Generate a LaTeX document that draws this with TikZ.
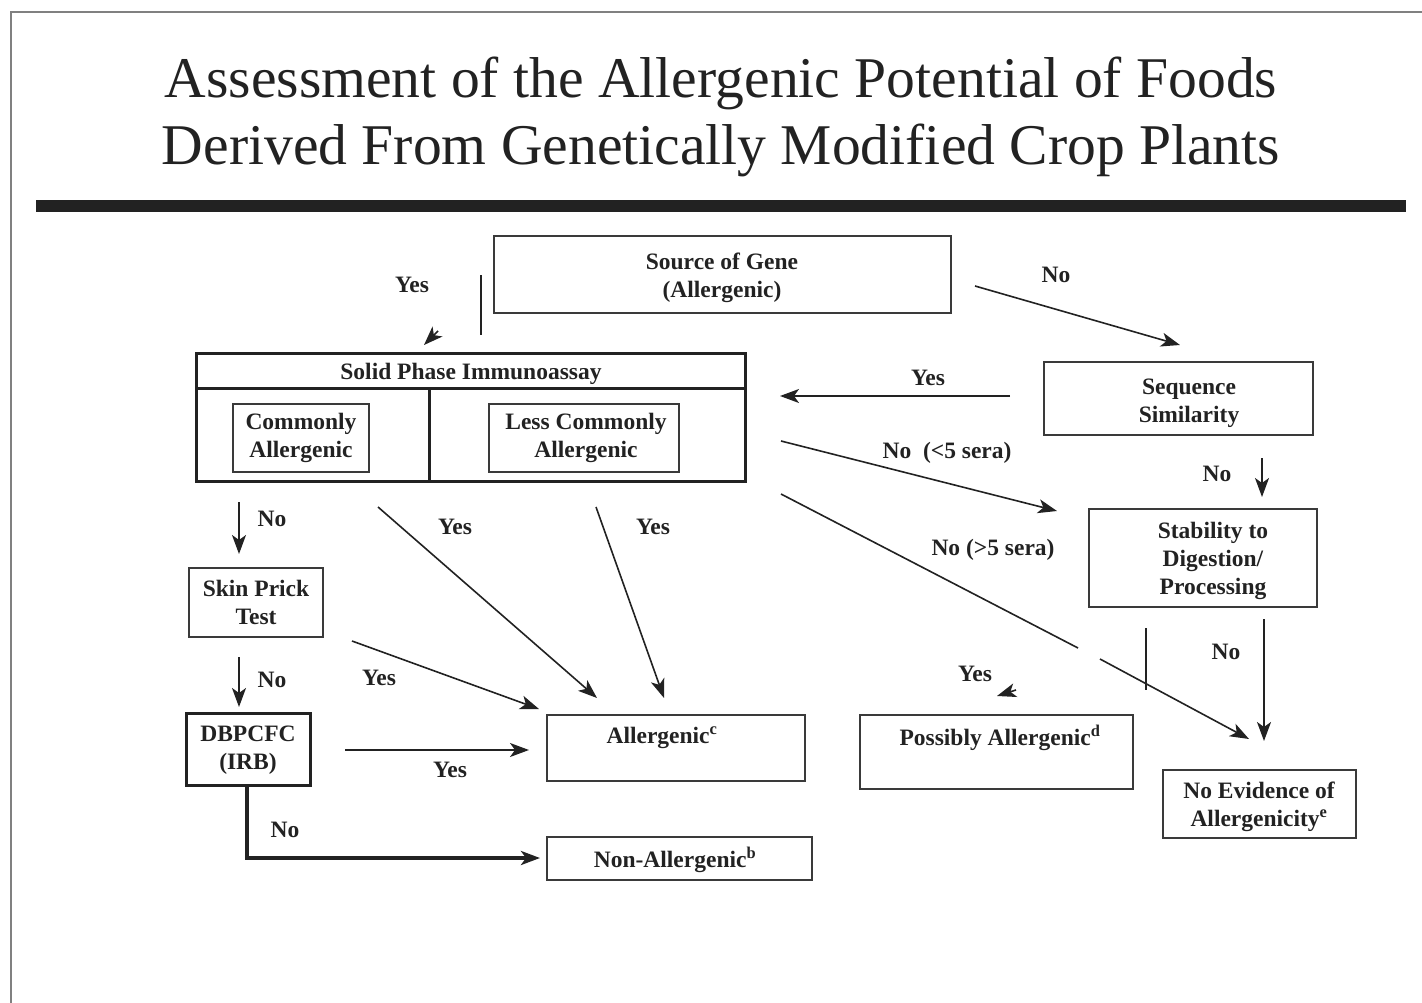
\documentclass[tikz,border=0pt]{standalone}
\usepackage{fontspec}
\setmainfont{Liberation Serif}
\usetikzlibrary{arrows.meta}
\definecolor{ink}{HTML}{222222}
\definecolor{boxc}{HTML}{3A3A3A}
\definecolor{framec}{HTML}{808080}
\tikzset{
  box/.style={draw=boxc, line width=1.5, minimum width=#1, inner sep=0pt, align=center, text=ink, font=\bodyfont},
  thickbox/.style={draw=ink, line width=3, inner sep=0pt, align=center, text=ink, font=\bodyfont},
  lbl/.style={text=ink, font=\bodyfont, inner sep=0pt, align=center},
  arr/.style={draw=ink, line width=1.6, -{Stealth[length=19pt, width=14pt, inset=5pt]}},
  plain/.style={draw=ink, line width=1.6},
}
\newcommand{\bodyfont}{\bfseries\fontsize{23.5}{28}\selectfont}
\begin{document}
\begin{tikzpicture}[x=1pt, y=-1pt]
\useasboundingbox (0,0) rectangle (1422,1003);
% frame and bar
\draw[framec, line width=2] (1422,12) -- (11,12) -- (11,1003);
\fill[ink] (36,200) rectangle (1406,212);
% title
\node[anchor=base, inner sep=0pt, text=ink, font=\fontsize{57.6}{60}\selectfont] (t1) at (721,98) {Assessment of the Allergenic Potential of Foods};
\node[anchor=base, inner sep=0pt, text=ink, font=\fontsize{57.6}{60}\selectfont] (t2) at (721,165) {Derived From Genetically Modified Crop Plants};
% boxes
\node[box=457, minimum height=77] (src) at (722.5,274.5) {};
\node[lbl] (srct) at (722,278) {Source of Gene\\(Allergenic)};
\node[box=269, minimum height=73] (seq) at (1178.5,398.5) {};
\node[lbl] (seqt) at (1189,403) {Sequence\\Similarity};
\node[box=228, minimum height=98] (stab) at (1203,558) {};
\node[lbl] (stabt) at (1213,561) {Stability to\\Digestion/\\Processing};
\node[box=134, minimum height=69] (skin) at (256,602.5) {Skin Prick\\Test};
\node[thickbox, minimum width=124, minimum height=72] (dbp) at (248,749) {};
\node[lbl] (dbpt) at (248,750) {DBPCFC\\(IRB)};
\node[box=258, minimum height=66] (alg) at (676,748) {};
\node[lbl] (algt) at (662,738) {Allergenic\textsuperscript{c}};
\node[box=273, minimum height=74] (pa) at (996.5,752) {};
\node[lbl] (pat) at (1000,738) {Possibly Allergenic\textsuperscript{d}};
\node[box=265, minimum height=43] (nonalg) at (679.5,858.5) {};
\node[lbl] (nonalgt) at (675,860) {Non-Allergenic\textsuperscript{b}};
\node[box=193, minimum height=68] (noev) at (1259.5,804) {};
\node[lbl] (noevt) at (1259,807) {No Evidence of\\Allergenicity\textsuperscript{e}};
% solid phase immunoassay
\node[thickbox, minimum width=549, minimum height=128] (spi) at (470.5,417) {};
\draw[ink, line width=3] (196,388) -- (745,388);
\draw[ink, line width=3] (429,388) -- (429,481);
\node[lbl] (spit) at (471,374) {Solid Phase Immunoassay};
\node[box=136, minimum height=68] (com) at (301,438) {};
\node[lbl] (comt) at (301,438) {Commonly\\Allergenic};
\node[box=190, minimum height=68] (less) at (584,438) {};
\node[lbl] (lesst) at (586,438) {Less Commonly\\Allergenic};
% labels
\node[lbl] (y1) at (412,285) {Yes};
\node[lbl] (n1) at (1056,275) {No};
\node[lbl] (y2) at (928,378) {Yes};
\node[lbl] (n2) at (947,453) {No\ \ (<5 sera)};
\node[lbl] (n3) at (1217,474) {No};
\node[lbl] (n4) at (993,550) {No (>5 sera)};
\node[lbl] (y3) at (975,674) {Yes};
\node[lbl] (n5) at (1226,652) {No};
\node[lbl] (n6) at (272,519) {No};
\node[lbl] (n7) at (272,680) {No};
\node[lbl] (y4) at (455,527) {Yes};
\node[lbl] (y5) at (653,527) {Yes};
\node[lbl] (y6) at (379,678) {Yes};
\node[lbl] (y7) at (450,770) {Yes};
\node[lbl] (n8) at (285,830) {No};
% connector coordinates
\coordinate (a) at (481,275);   \coordinate (b) at (481,335);
\coordinate (tipA) at (424,345); \coordinate (tipAs) at (438,331);
\coordinate (c) at (975,286);   \coordinate (d) at (1180,345);
\coordinate (e) at (1010,396);  \coordinate (f) at (780,396);
\coordinate (g) at (781,441);   \coordinate (h) at (1057,511);
\coordinate (i) at (1262,458);  \coordinate (j) at (1262,497);
\coordinate (k) at (781,494);   \coordinate (l) at (1078,648);
\coordinate (m) at (1100,659);  \coordinate (n) at (1249,739);
\coordinate (o) at (1146,628);  \coordinate (p) at (1146,690);
\coordinate (tipB) at (997,696); \coordinate (tipBs) at (1016,690);
\coordinate (q) at (1264,619);  \coordinate (r) at (1264,741);
\coordinate (s1) at (239,502);  \coordinate (s2) at (239,554);
\coordinate (s3) at (239,657);  \coordinate (s4) at (239,707);
\coordinate (u1) at (378,507);  \coordinate (u2) at (597,698);
\coordinate (v1) at (596,507);  \coordinate (v2) at (664,698);
\coordinate (w1) at (352,641);  \coordinate (w2) at (539,709);
\coordinate (x1) at (345,750);  \coordinate (x2) at (529,750);
\coordinate (z1) at (247,785);  \coordinate (z2) at (247,858); \coordinate (z3) at (540,858);
% connectors
\draw[plain] (a) -- (b);
\draw[arr] (tipAs) -- (tipA);
\draw[arr] (c) -- (d);
\draw[arr] (e) -- (f);
\draw[arr] (g) -- (h);
\draw[arr] (i) -- (j);
\draw[plain] (k) -- (l);
\draw[arr] (m) -- (n);
\draw[plain] (o) -- (p);
\draw[arr] (tipBs) -- (tipB);
\draw[arr] (q) -- (r);
\draw[arr] (s1) -- (s2);
\draw[arr] (s3) -- (s4);
\draw[arr] (u1) -- (u2);
\draw[arr] (v1) -- (v2);
\draw[arr] (w1) -- (w2);
\draw[arr] (x1) -- (x2);
\draw[arr, line width=3.5] (z1) -- (z2) -- (z3);
\end{tikzpicture}
\end{document}
